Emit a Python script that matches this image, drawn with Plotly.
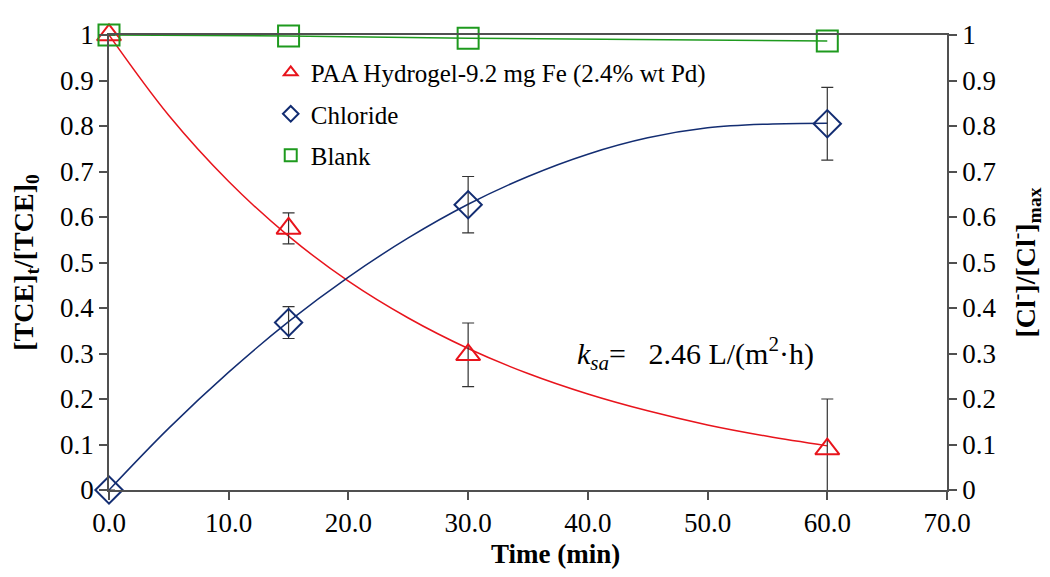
import plotly.graph_objects as go

# Measured data
time_pts = [0, 15, 30, 60]
tce = [1.0, 0.575, 0.297, 0.09]
tce_err = [0.0, 0.034, 0.07, 0.11]
chloride = [0.0, 0.368, 0.627, 0.805]
chloride_err = [0.0, 0.035, 0.062, 0.08]
blank = [1.0, 0.998, 0.993, 0.987]

# Fitted curves
fit_t = [0, 5, 10, 15, 20, 25, 30, 35, 40, 45, 50, 55, 60]
tce_fit = [1.0, 0.823, 0.678, 0.558, 0.459, 0.378, 0.311, 0.256, 0.211, 0.174, 0.143, 0.118, 0.097]
cl_fit = [0.0, 0.136, 0.259, 0.370, 0.468, 0.554, 0.628, 0.689, 0.738, 0.774, 0.796, 0.804, 0.806]

x_ticks = [0, 10, 20, 30, 40, 50, 60, 70]
y_ticks = [0, 0.1, 0.2, 0.3, 0.4, 0.5, 0.6, 0.7, 0.8, 0.9, 1]

RED = "#e8141c"
BLUE = "#132d72"
GREEN = "#1e9a1e"
AX = "#505050"
FONT = "Times New Roman"

fig = go.Figure()

fig.add_trace(go.Scatter(x=fit_t, y=tce_fit, mode="lines", line=dict(color=RED, width=1.5, shape="spline"),
                         showlegend=False, hoverinfo="skip"))
fig.add_trace(go.Scatter(x=fit_t, y=cl_fit, mode="lines", line=dict(color=BLUE, width=1.5, shape="spline"),
                         showlegend=False, hoverinfo="skip"))
fig.add_trace(go.Scatter(x=time_pts, y=blank, mode="lines", line=dict(color=GREEN, width=1.5),
                         showlegend=False, hoverinfo="skip"))

fig.add_trace(go.Scatter(
    x=time_pts, y=tce, mode="markers", name="PAA Hydrogel-9.2 mg Fe (2.4% wt Pd)", legendgroup="a",
    marker=dict(symbol="triangle-up-open", size=21, color=RED, line=dict(width=2, color=RED)),
    error_y=dict(type="data", array=tce_err, visible=True, color="#333333", thickness=1.2, width=6),
    cliponaxis=False))
fig.add_trace(go.Scatter(
    x=time_pts, y=chloride, mode="markers", name="Chloride", yaxis="y2", legendgroup="b",
    marker=dict(symbol="diamond-open", size=21, color=BLUE, line=dict(width=2, color=BLUE)),
    error_y=dict(type="data", array=chloride_err, visible=True, color="#333333", thickness=1.2, width=6),
    cliponaxis=False))
fig.add_trace(go.Scatter(
    x=time_pts, y=blank, mode="markers", name="Blank", legendgroup="c",
    marker=dict(symbol="square-open", size=21, color=GREEN, line=dict(width=2, color=GREEN)),
    cliponaxis=False))

fig.add_annotation(x=38.9, y=0.30, xref="x", yref="y", xanchor="left", yanchor="middle", showarrow=False,
                   text="<i>k</i><sub><i>sa</i></sub>=   2.46 L/(m<sup>2</sup>·h)",
                   font=dict(family=FONT, size=30, color="black"))

# x-axis title (slightly right of centre, as in the reference)
fig.add_annotation(x=0.533, y=-0.14, xref="paper", yref="paper", xanchor="center", yanchor="middle",
                   showarrow=False, text="<b>Time (min)</b>",
                   font=dict(family=FONT, size=27, color="black"))

axis_common = dict(showline=True, linecolor=AX, linewidth=1.5, ticks="outside", tickcolor=AX,
                   ticklen=8, tickwidth=1.5, showgrid=False, zeroline=False,
                   tickfont=dict(family=FONT, size=27, color="black"))

fig.update_layout(
    width=1050, height=577,
    font=dict(family=FONT, color="black"),
    margin=dict(l=96, r=111, t=19, b=95),
    plot_bgcolor="white", paper_bgcolor="white",
    xaxis=dict(range=[0, 70], tickvals=x_ticks, tickformat=".1f", mirror=True, **axis_common),
    yaxis=dict(range=[0, 1], tickvals=y_ticks,
               title=dict(text="<b>[TCE]<sub>t</sub>/[TCE]<sub>0</sub></b>",
                          font=dict(family=FONT, size=28, color="black"), standoff=20),
               **axis_common),
    yaxis2=dict(range=[0, 1], tickvals=y_ticks, overlaying="y", side="right",
                title=dict(text="<b>[Cl<sup>-</sup>]/[Cl<sup>-</sup>]<sub>max</sub></b>",
                           font=dict(family=FONT, size=28, color="black"), standoff=20),
                **axis_common),
    legend=dict(x=0.193, y=0.968, xanchor="left", yanchor="top", bgcolor="rgba(0,0,0,0)",
                font=dict(family=FONT, size=25, color="black"), tracegroupgap=6, itemsizing="constant"),
    showlegend=True,
)

fig.write_html("out.html")
